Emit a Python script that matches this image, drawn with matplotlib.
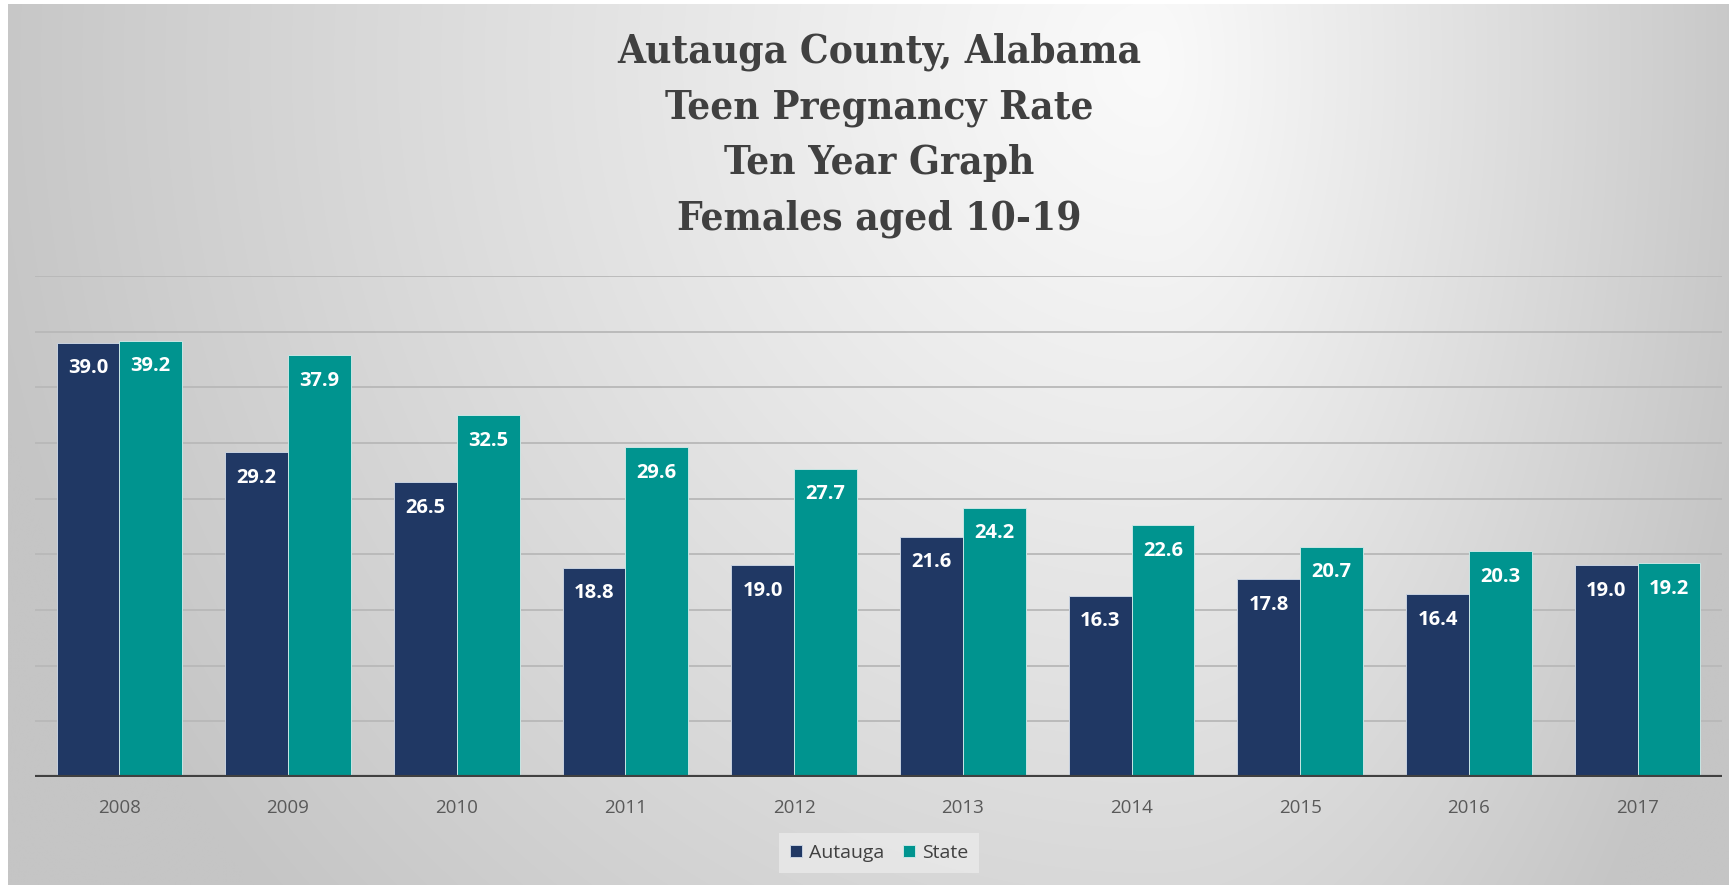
import matplotlib
matplotlib.use("Agg")
import matplotlib.pyplot as plt
from matplotlib import font_manager
import numpy as np

years = ["2008", "2009", "2010", "2011", "2012", "2013", "2014", "2015", "2016", "2017"]
autauga = [39.0, 29.2, 26.5, 18.8, 19.0, 21.6, 16.3, 17.8, 16.4, 19.0]
state = [39.2, 37.9, 32.5, 29.6, 27.7, 24.2, 22.6, 20.7, 20.3, 19.2]

title_lines = ["Autauga County, Alabama", "Teen Pregnancy Rate",
               "Ten Year Graph", "Females aged 10-19"]

NAVY = "#203864"
TEAL = "#00948f"
W, H = 1729, 885

print(sorted({f.name + " " + str(f.stretch) for f in font_manager.fontManager.ttflist
              if "Serif" in f.name or "Slab" in f.name}))

fig = plt.figure(figsize=(W / 100, H / 100), dpi=100, facecolor="white")

# background gradient (light top centre, grey edges)
bg = fig.add_axes([8 / W, 0, 1 - 8 / W, 1 - 4 / H], zorder=-5)
yy, xx = np.mgrid[0:H, 0:W].astype(float)
cx, cy = 1150.0, 60.0
sx = np.where(xx < cx, 1200.0, 620.0)
t = np.sqrt(((xx - cx) / sx) ** 2 + ((yy - cy) / 1250.0) ** 2)
t = np.clip(t, 0, 1) ** 1.1
c = (250 - (250 - 197) * t) / 255.0
bg.imshow(np.dstack([c, c, c]), aspect="auto", extent=[0, 1, 0, 1])
bg.axis("off")

ax = fig.add_axes([35 / W, 1 - 777 / H, (1722 - 35) / W, (777 - 276) / H])
ax.set_facecolor("none")

x = np.arange(len(years))
bw = 0.372
b1 = ax.bar(x - bw / 2, autauga, bw, color=NAVY, edgecolor="#c8d2e0", linewidth=0.7,
            label="Autauga", zorder=3)
b2 = ax.bar(x + bw / 2, state, bw, color=TEAL, edgecolor="#c8e6e4", linewidth=0.7,
            label="State", zorder=3)

for bars, vals in [(b1, autauga), (b2, state)]:
    for rect, v in zip(bars, vals):
        ax.annotate(f"{v:.1f}", (rect.get_x() + rect.get_width() / 2, v),
                    xytext=(0, -18.5), textcoords="offset points",
                    ha="center", va="center", color="white",
                    fontsize=14.5, fontweight="bold", family="Open Sans", zorder=4)

ax.set_xlim(-0.5, len(years) - 0.5)
ax.set_ylim(0, 45)
ax.set_yticks(np.arange(5, 46, 5))
ax.yaxis.grid(True, color="#b8b8b8", linewidth=1.3, zorder=0)
ax.set_axisbelow(True)
ax.axhline(0, color="#404040", linewidth=3, zorder=5)
ax.tick_params(axis="y", length=0, labelleft=False)
ax.set_xticks(x)
ax.set_xticklabels(years, family="Open Sans", fontsize=13.5, color="#595959")
ax.tick_params(axis="x", length=0, pad=16)
for s in ax.spines.values():
    s.set_visible(False)

fig.text(879 / W, 1 - 135 / H, "\n".join(title_lines), ha="center", va="center",
         family="DejaVu Serif", fontstretch="condensed", fontweight="bold",
         fontsize=29, color="#404040", linespacing=1.58)

leg = ax.legend(loc="center", bbox_to_anchor=(879 / W, 1 - 853 / H),
                bbox_transform=fig.transFigure, ncol=2, frameon=True,
                fancybox=False, handlelength=0.6, handleheight=0.6,
                handletextpad=0.35, columnspacing=1.0, borderpad=0.55,
                prop={"family": "Open Sans", "size": 14})
leg.get_frame().set_facecolor("#ececec")
leg.get_frame().set_edgecolor("none")
leg.get_frame().set_alpha(0.7)
for txt in leg.get_texts():
    txt.set_color("#404040")

fig.savefig("out.png", dpi=100, facecolor=fig.get_facecolor())
